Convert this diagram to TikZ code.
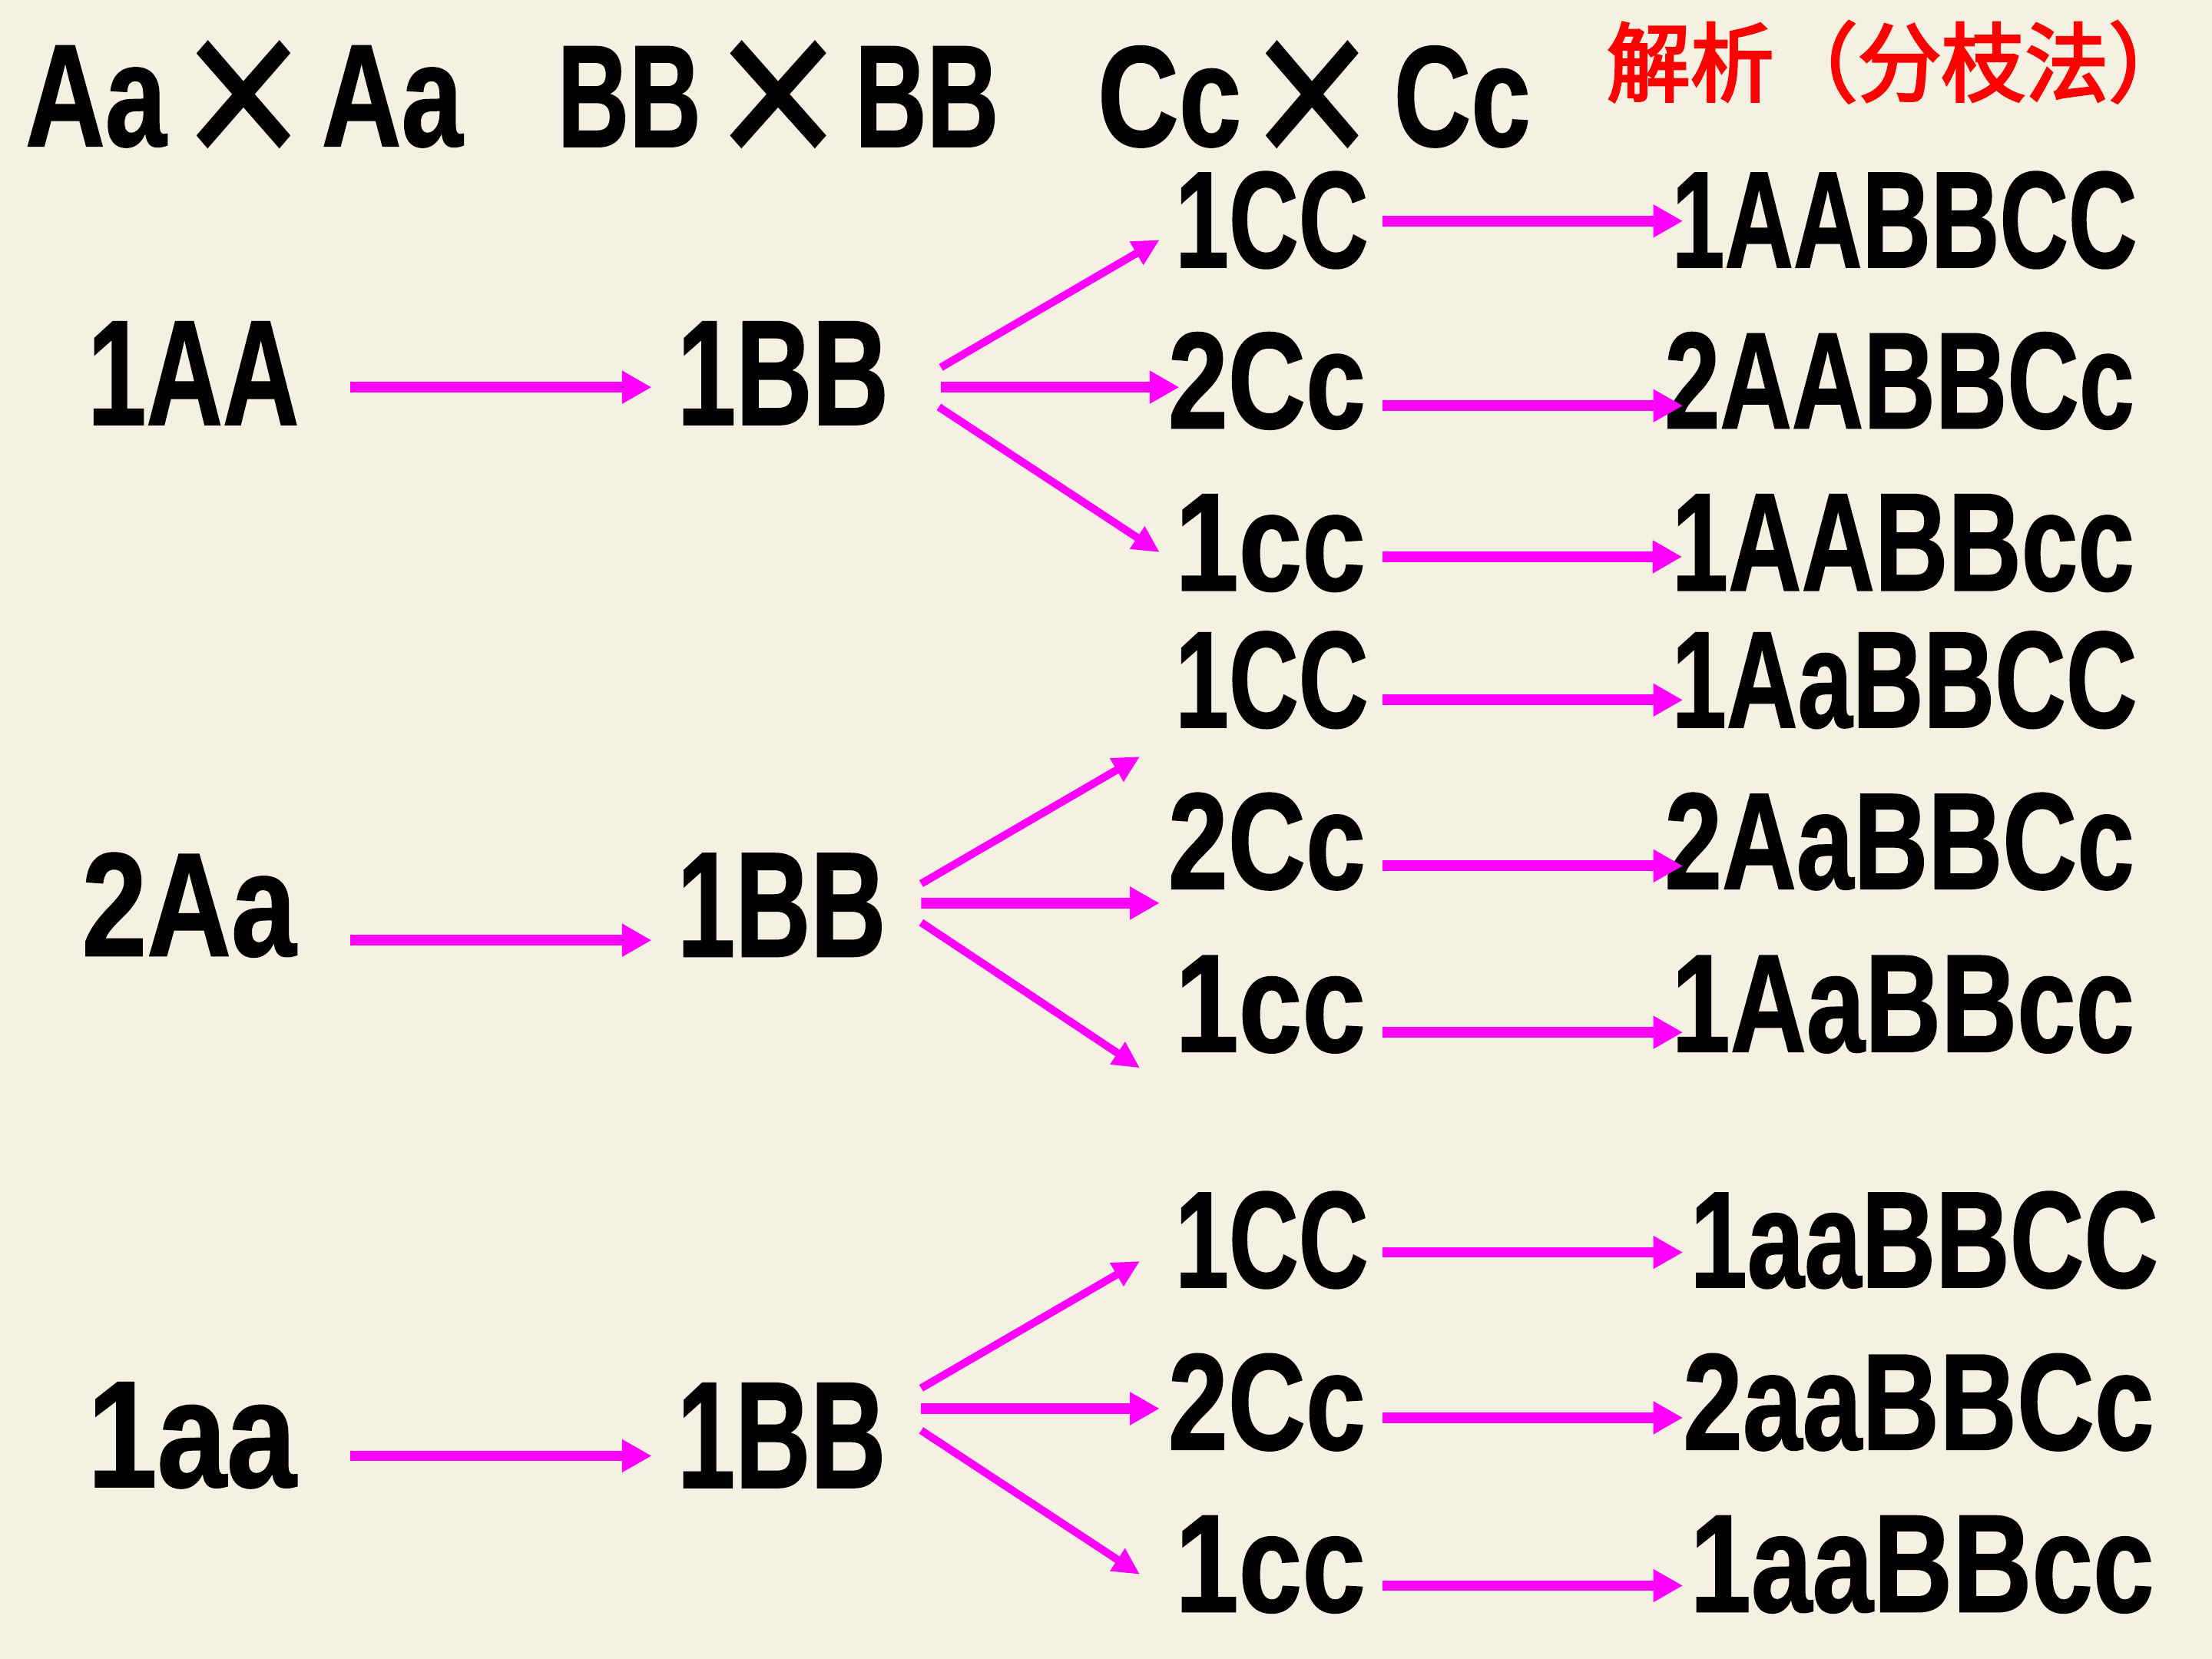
\documentclass[tikz,border=0pt]{standalone}
\usepackage{fontspec}
\usepackage{graphicx}
\setmainfont{Liberation Sans}
\newfontfamily\gfont{Liberation Sans}[BoldFeatures={FakeBold=1}]
\newfontfamily\xfont{Liberation Serif}[FakeBold=2.5]
\newfontfamily\cjk{Noto Sans CJK SC}[FakeBold=3]
\usetikzlibrary{arrows.meta}
\newdimen\pxu \pxu=0.01cm
\definecolor{bg}{HTML}{F4F1E2}
\definecolor{mag}{HTML}{FF00FF}
\definecolor{redt}{HTML}{FF0000}
\tikzset{
  gtx/.style={inner sep=0pt, outer sep=0pt, text=black},
  harr/.style={draw=mag, line width=0.075cm, -{Triangle[length=0.21cm,width=0.22cm]}},
  darr/.style={draw=mag, line width=0.055cm, -{Triangle[length=0.19cm,width=0.18cm]}}
}
\newcommand\gtxt[6]{\node[gtx] (#1) at (#2,#3) {\resizebox{#4\pxu}{#5\pxu}{\gfont\bfseries #6}};}
\newcommand\gcross[4]{\node[gtx] (#1) at (#2,#3) {\raisebox{-22\pxu}[71\pxu][0pt]{\resizebox{#4\pxu}{93\pxu}{\xfont ×}}};}
\newcommand\conn[7]{\draw[#1] ([shift={(#3,#4)}]#2.east) -- ([shift={(#6,#7)}]#5.west);}
\begin{document}
\begin{tikzpicture}[x=0.01cm,y=-0.01cm]
\fill[bg] (0,0) rectangle (1568,1176);
% title
\gtxt{t1}{68}{68.5}{100}{71}{Aa}
\gcross{x1}{172.5}{67}{85}
\gtxt{t2}{278}{68.5}{100}{71}{Aa}
\gtxt{t3}{446}{68.5}{102}{71}{BB}
\gcross{x2}{551.5}{67}{87}
\gtxt{t4}{657}{68.5}{102}{71}{BB}
\gtxt{t5}{829}{68.5}{102}{71}{Cc}
\gcross{x3}{930}{67}{84}
\gtxt{t6}{1036.5}{68.5}{97}{71}{Cc}
\node[gtx,text=redt] (head) at (1346.5,44) {\resizebox*{415\pxu}{58\pxu}{\cjk 解析（分枝法）}};
% group 1
\gtxt{a1}{137}{264.5}{150}{73}{1AA}
\gtxt{b1}{555}{264.5}{150}{73}{1BB}
\gtxt{c11}{901.5}{156}{137}{68}{1CC}
\gtxt{c12}{898}{270}{140}{68}{2Cc}
\gtxt{c13}{900.5}{385}{135}{68}{1cc}
\gtxt{d11}{1350}{156}{330}{68}{1AABBCC}
\gtxt{d12}{1346.5}{270}{333}{68}{2AABBCc}
\gtxt{d13}{1349}{385}{328}{68}{1AABBcc}
% group 2
\gtxt{a2}{134}{641.5}{152}{73}{2Aa}
\gtxt{b2}{554}{641.5}{148}{73}{1BB}
\gtxt{c21}{901.5}{482}{137}{68}{1CC}
\gtxt{c22}{898}{596.5}{140}{68}{2Cc}
\gtxt{c23}{900.5}{712}{135}{68}{1cc}
\gtxt{d21}{1350}{482}{330}{68}{1AaBBCC}
\gtxt{d22}{1346.5}{596.5}{333}{68}{2AaBBCc}
\gtxt{d23}{1349}{712}{328}{68}{1AaBBcc}
% group 3
\gtxt{a3}{136}{1017.5}{148}{74}{1aa}
\gtxt{b3}{554}{1017.5}{148}{74}{1BB}
\gtxt{c31}{901.5}{879}{137}{68}{1CC}
\gtxt{c32}{898}{994}{140}{68}{2Cc}
\gtxt{c33}{900.5}{1109}{135}{68}{1cc}
\gtxt{d31}{1364}{879}{332}{68}{1aaBBCC}
\gtxt{d32}{1360}{994}{334}{68}{2aaBBCc}
\gtxt{d33}{1362.5}{1109}{329}{68}{1aaBBcc}
% arrows group 1
\conn{harr}{a1}{36}{10}{b1}{-18}{10}
\conn{darr}{b1}{37}{-4.1}{c11}{-11}{14}
\conn{harr}{b1}{37}{10}{c12}{8}{4.5}
\conn{darr}{b1}{35.5}{24}{c13}{-11}{6.5}
\conn{harr}{c11}{10}{0.7}{d11}{8}{0.7}
\conn{harr}{c12}{12}{17.6}{d12}{13}{17.6}
\conn{harr}{c13}{12}{9.7}{d13}{7.5}{9.7}
% arrows group 2
\conn{harr}{a2}{38}{25}{b2}{-18}{25}
\conn{darr}{b2}{25}{-15.1}{c21}{-25}{54.3}
\conn{harr}{b2}{25}{-1.3}{c22}{-6}{43.7}
\conn{darr}{b2}{25}{12.4}{c23}{-25}{45}
\conn{harr}{c21}{10}{14.2}{d21}{8}{14.2}
\conn{harr}{c22}{12}{17.3}{d22}{13}{17.3}
\conn{harr}{c23}{12}{19.8}{d23}{8}{19.8}
% arrows group 3
\conn{harr}{a3}{38}{14.5}{b3}{-18}{14.5}
\conn{darr}{b3}{25}{-33.5}{c31}{-25}{15}
\conn{harr}{b3}{25}{-19}{c32}{-6}{4.5}
\conn{darr}{b3}{25}{-3.5}{c33}{-25}{7}
\conn{harr}{c31}{10}{8.75}{d31}{-5}{8.75}
\conn{harr}{c32}{12}{11}{d32}{0}{11}
\conn{harr}{c33}{12}{15}{d33}{-5}{15}
\end{tikzpicture}
\end{document}
